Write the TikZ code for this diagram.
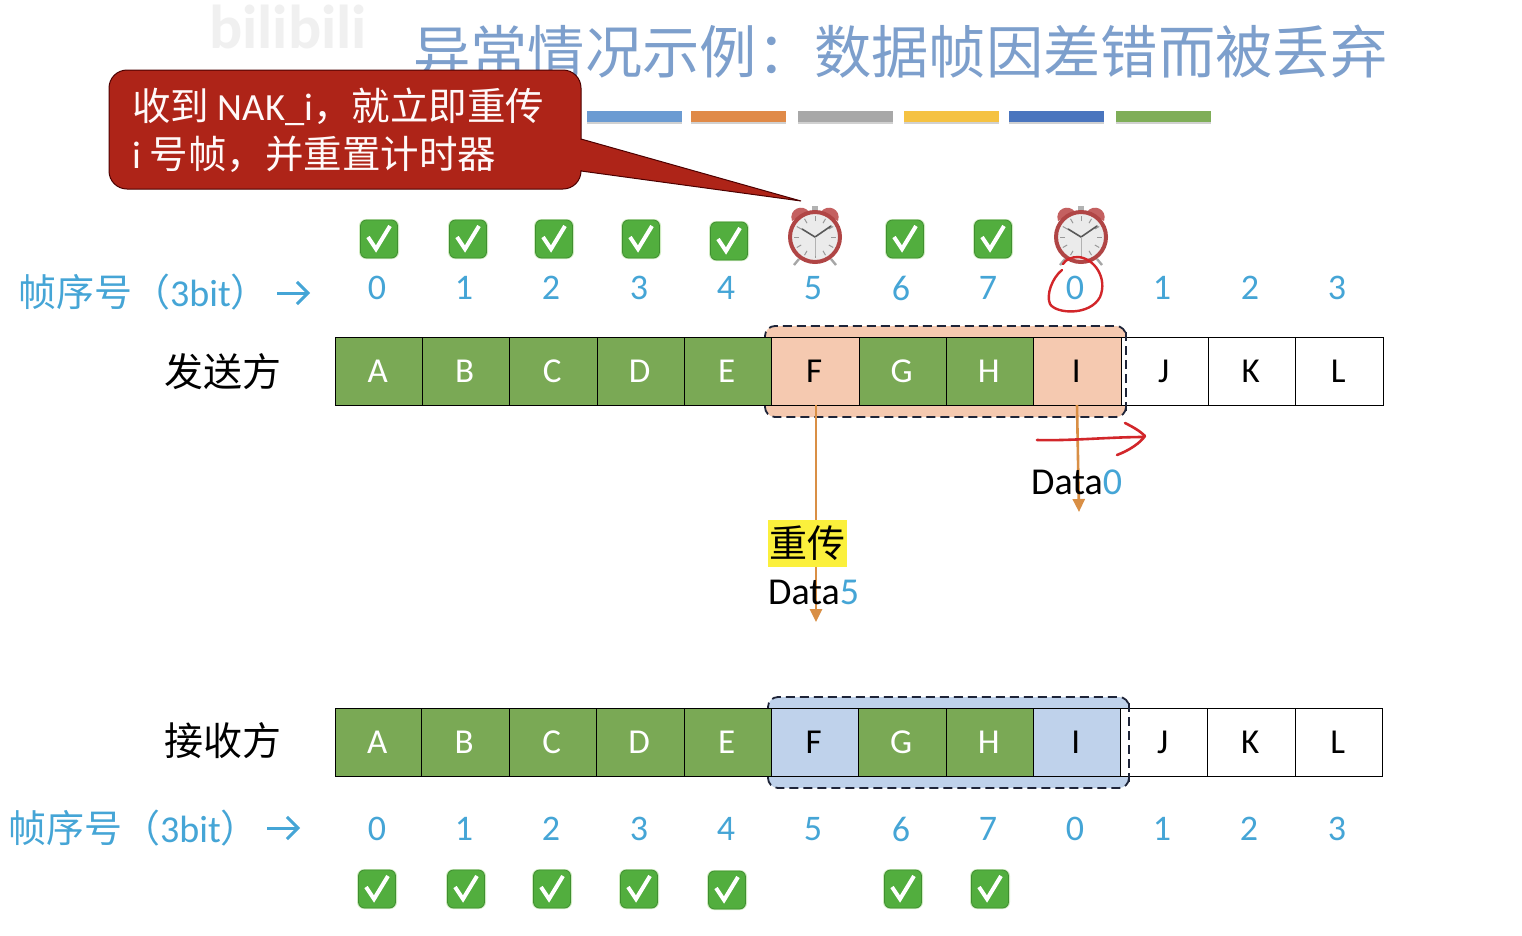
\documentclass[tikz,border=0pt]{standalone}
\usepackage{fontspec}
\setmainfont{Carlito}
\newfontfamily\cj{Noto Sans CJK SC}
\usetikzlibrary{arrows.meta,calc}
\definecolor{gbox}{HTML}{7AA955}
\definecolor{pinkb}{HTML}{F5C9B0}
\definecolor{blueb}{HTML}{BFD2EB}
\definecolor{digit}{HTML}{45A5D6}
\definecolor{titlec}{HTML}{7D9FCC}
\definecolor{callred}{HTML}{AE2418}
\definecolor{arrowo}{HTML}{D98F45}
\definecolor{inkred}{HTML}{D2262A}
\definecolor{checkg}{HTML}{52AE3E}
\definecolor{checke}{HTML}{3F8F30}
\definecolor{checkh}{HTML}{CFEBC0}
\definecolor{clockr}{HTML}{B04545}
\definecolor{bellr}{HTML}{C46060}
\definecolor{windowc}{HTML}{1E2438}
\tikzset{
  x=1pt,y=-1pt,
  plainbox/.style={draw=black,line width=1.4pt,minimum height=68pt,inner sep=0pt,anchor=north west,font=\fontsize{35}{38}\selectfont},
  boxg/.style={plainbox,fill=gbox,text=white},
  boxw/.style={plainbox,fill=white,text=black},
  boxp/.style={plainbox,fill=pinkb,text=black},
  boxb/.style={plainbox,fill=blueb,text=black},
  num/.style={text=digit,inner sep=0pt,font=\fontsize{36}{38}\selectfont},
  seqlabel/.style={text=digit,inner sep=0pt,anchor=west,font=\fontsize{38}{40}\selectfont},
  seqarrow/.style={draw=digit,line width=3pt,-{Straight Barb[length=11pt,width=22pt,line width=3pt]}},
  party/.style={text=black,inner sep=0pt,font=\cj\fontsize{39}{40}\selectfont},
  datal/.style={text=black,inner sep=0pt,anchor=west,font=\fontsize{38}{40}\selectfont},
  window/.style={draw=windowc,dash pattern=on 9pt off 5pt,line width=1.8pt,rounded corners=10pt},
  windowedge/.style={draw=windowc,dash pattern=on 9pt off 5pt,line width=1.8pt},
  bar/.style={minimum width=95pt,minimum height=11pt,inner sep=0pt,anchor=north west},
  sendarrow/.style={draw=arrowo,line width=2.6pt,-{Triangle[length=13pt,width=12pt]}},
  ink/.style={draw=inkred,line width=2.4pt,line cap=round,line join=round},
  calltext/.style={text=white!90!pink,inner sep=0pt,anchor=west,font=\fontsize{38.5}{42}\selectfont},
  checkicon/.pic={
    \fill[rounded corners=7pt,checkh] (-20,-20) rectangle (20,20);
    \filldraw[rounded corners=6pt,draw=checke,line width=.8pt,fill=checkg] (-18.5,-19) rectangle (18.5,19);
    \draw[white,line width=4pt,line join=miter] (-11,-2) -- (-3,10) -- (11,-13);
  },
  clockicon/.pic={
    \draw[black!35,line width=2.4pt] (-16,22) -- (-21,28) (16,22) -- (21,28);
    \fill[bellr] (-23,-16) .. controls (-27,-28) and (-12,-34) .. (-6,-25) -- cycle;
    \fill[bellr] (23,-16) .. controls (27,-28) and (12,-34) .. (6,-25) -- cycle;
    \fill[black!30] (-3,-31) rectangle (3,-26);
    \filldraw[fill=white!92!black,draw=clockr,line width=4pt] (0,0) circle (25);
    \foreach \a in {0,30,...,330}{\draw[black!40,line width=1pt] (\a:16) -- (\a:21);}
    \draw[black!65,line width=1.6pt,line cap=round] (0,0) -- (-13,-8);
    \draw[black!65,line width=1.6pt,line cap=round] (0,0) -- (16,-11);
    \draw[black!30,line width=.7pt] (0,0) -- (0,19);
  }
}
\begin{document}
\begin{tikzpicture}
\useasboundingbox (0,0) rectangle (1522,935);
\fill[white] (0,0) rectangle (1522,935);
% watermark
\node[inner sep=0pt,text=black!6,font=\bfseries\fontsize{62}{62}\selectfont] (wm) at (288,27) {bilibili};
% title
\node[inner sep=0pt,anchor=west,text=titlec,font=\cj\fontsize{57.3}{60}\selectfont] (title) at (413,52) {异常情况示例：数据帧因差错而被丢弃};
% colour bars
\foreach \nm/\xx/\cc in {a/587/6B9BD2,b/691/E08A48,c/798/A8A8A8,d/904/F5C242,e/1009/4A75BE,f/1116/7FAE58}{
  \definecolor{barc}{HTML}{\cc}
  \fill[black!18] (\xx,113) rectangle ++(95,11);
  \node[bar,fill=barc] (bar\nm) at (\xx,110.5) {};
}
% callout
\filldraw[fill=callred,draw=red!30!black,line width=1pt]
  (575,139) -- (581,139) -- (801,201) -- (581,171) -- (575,171) -- cycle;
\filldraw[fill=callred,draw=red!30!black,line width=1pt,rounded corners=18pt]
  (109,70) rectangle (581,189);
\fill[callred] (570,140) rectangle (582,170);
\node[calltext] (call1) at (132,107) {{\cj 收到} NAK\_i{\cj ，就立即重传}};
\node[calltext] (call2) at (132,154) {i {\cj 号帧，并重置计时器}};
% sender
\node[seqlabel] (seqtop) at (18,292) {{\cj 帧序号（}3bit{\cj ）}};
\draw[seqarrow] ($(seqtop.east)+(8,1)$) -- ++(33,0);
\node[party] (sender) at (223,372) {发送方};
\filldraw[window,fill=pinkb] (765,326) rectangle (1126,417);
\foreach \nm/\xa/\xb/\st/\lab in {A/335/422/boxg/A,B/422/509/boxg/B,C/509/597/boxg/C,D/597/684/boxg/D,E/684/771/boxg/E,F/771/859/boxp/F,G/859/946/boxg/G,H/946/1033/boxg/H,I/1033/1121/boxp/I,J/1121/1208/boxw/J,K/1208/1295/boxw/K,L/1295/1383/boxw/L}{
  \pgfmathsetmacro{\boxwd}{\xb-\xa}
  \node[\st,minimum width=\boxwd pt] (s\nm) at (\xa,337) {\hspace*{-3pt}\raisebox{-1.5pt}{\lab}};
}
\draw[windowedge] (1126,332) -- (1126,412);
\foreach \i/\xx/\lab in {0/377/0,1/464/1,2/551/2,3/639/3,4/726/4,5/813/5,6/901/6,7/988/7,8/1075/0,9/1162/1,10/1250/2,11/1337/3}{
  \node[num] (tn\i) at (\xx,288) {\lab};
}
\foreach \xx/\yy in {379/239,468/239,554/239,641/239,729/241,905/239,993/239}{
  \pic at (\xx,\yy) {checkicon};
}
\pic at (815,237) {clockicon};
\pic at (1081,237) {clockicon};
% receiver
\node[seqlabel] (seqbot) at (8,828) {{\cj 帧序号（}3bit{\cj ）}};
\draw[seqarrow] ($(seqbot.east)+(8,0)$) -- ++(33,0);
\node[party] (receiver) at (223,741) {接收方};
\filldraw[window,fill=blueb] (768,697) rectangle (1129,788);
\foreach \nm/\xa/\xb/\st/\lab in {A/335/421/boxg/A,B/421/509/boxg/B,C/509/596/boxg/C,D/596/684/boxg/D,E/684/771/boxg/E,F/771/858/boxb/F,G/858/946/boxg/G,H/946/1033/boxg/H,I/1033/1120/boxb/I,J/1120/1207/boxw/J,K/1207/1295/boxw/K,L/1295/1382/boxw/L}{
  \pgfmathsetmacro{\boxwd}{\xb-\xa}
  \node[\st,minimum width=\boxwd pt] (r\nm) at (\xa,708) {\hspace*{-3pt}\raisebox{-1.5pt}{\lab}};
}
\draw[windowedge] (1129,703) -- (1129,783);
\foreach \i/\xx/\lab in {0/377/0,1/464/1,2/551/2,3/639/3,4/726/4,5/813/5,6/901/6,7/988/7,8/1075/0,9/1162/1,10/1249/2,11/1337/3}{
  \node[num] (bn\i) at (\xx,829) {\lab};
}
\foreach \xx/\yy in {377/889,466/889,552/889,639/889,727/890,903/889,990/889}{
  \pic at (\xx,\yy) {checkicon};
}
% transmissions
\coordinate (endF) at (816,622);
\coordinate (endI) at (1079,512);
\draw[sendarrow] (816,405) -- (endF);
\draw[sendarrow] (1077,405) -- (endI);
\definecolor{highl}{HTML}{FBF03C}
\node[fill=highl,inner sep=0pt,minimum width=79pt,minimum height=47pt,text=black,font=\cj\fontsize{38}{40}\selectfont] (retx) at (807.5,543.5) {重传};
\node[datal] (data5) at (768,592) {Data\textcolor{digit}{5}};
\node[datal] (data0) at (1031,482) {Data\textcolor{digit}{0}};
% handwriting
\draw[ink] (1062,270) .. controls (1052,278) and (1046,295) .. (1050,304)
  .. controls (1056,314) and (1090,316) .. (1100,297)
  .. controls (1108,278) and (1094,258) .. (1078,257)
  .. controls (1072,257) and (1066,259) .. (1063,264);
\draw[ink,line width=2.6pt] (1037,440) .. controls (1070,441) and (1110,437) .. (1144,437);
\draw[ink,line width=2.6pt] (1125,423) .. controls (1133,427) and (1140,431) .. (1145,436) .. controls (1140,443) and (1130,450) .. (1117,455);
\end{tikzpicture}
\end{document}
